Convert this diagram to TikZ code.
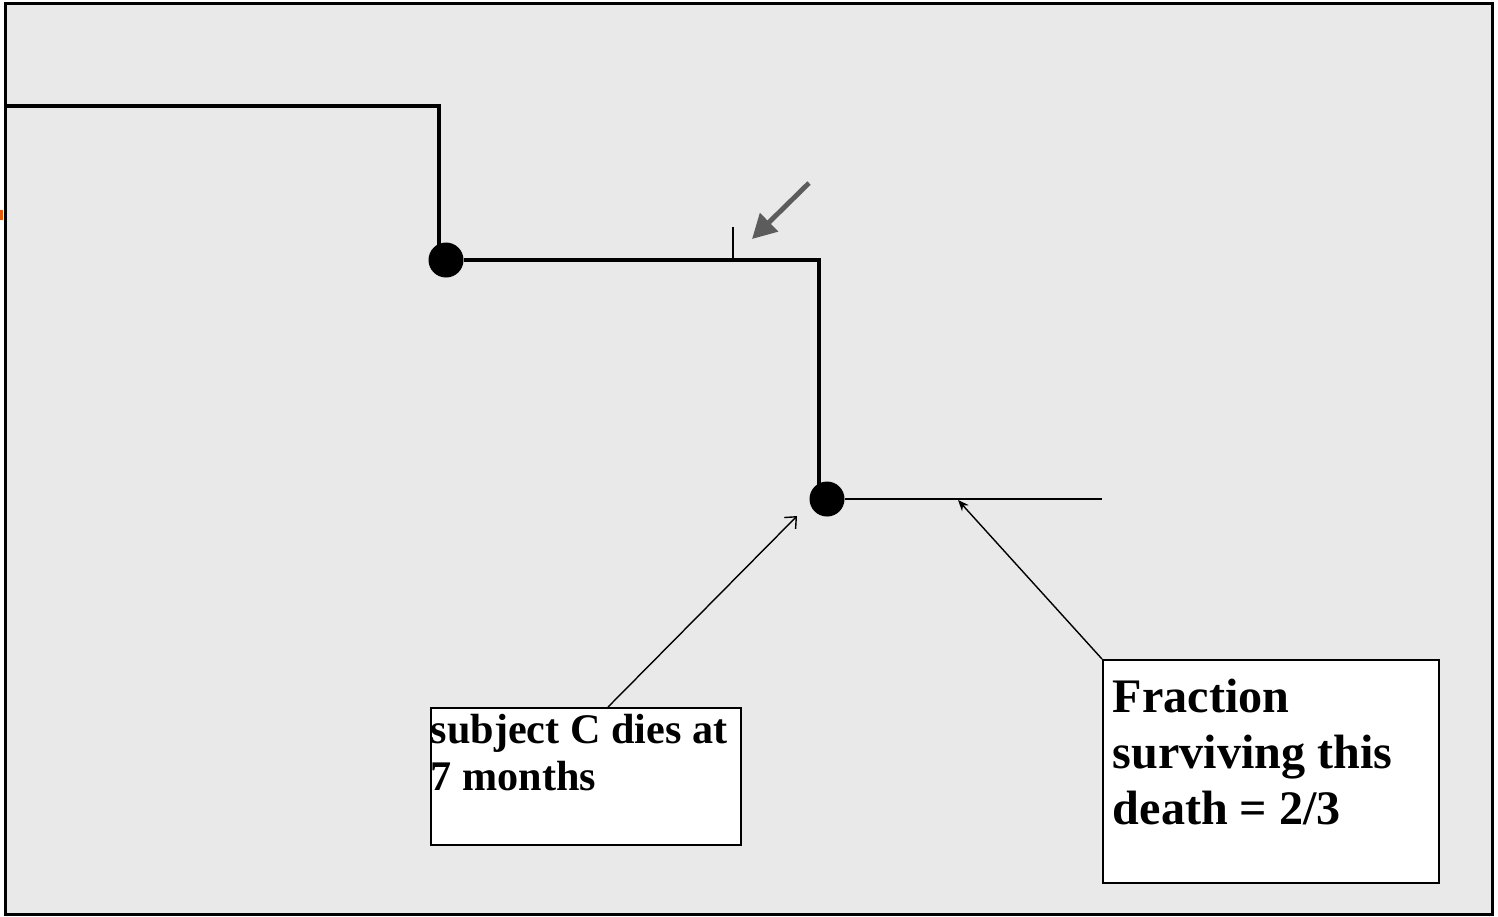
\documentclass[tikz,border=0pt]{standalone}
\usepackage{fontspec}
\setmainfont{Liberation Serif}
\usetikzlibrary{calc,arrows.meta,positioning}
\definecolor{panel}{RGB}{233,233,233}
\definecolor{hintgray}{RGB}{92,92,92}
\definecolor{slideorange}{RGB}{230,90,10}

\begin{document}
\begin{tikzpicture}[
  x=0.1mm, y=-0.1mm,
  frame/.style={draw, line width=1pt, fill=panel},
  curve/.style={line width=1.1pt},
  level/.style={line width=0.7pt},
  dot/.style={circle, fill=black, inner sep=0pt, minimum size=3.5mm},
  box/.style={rectangle, draw, fill=white, line width=0.5pt, anchor=north west, inner ysep=0pt, font=\bfseries},
  pointer/.style={-{Straight Barb[length=0.9mm,width=1.6mm]}, line width=0.4pt},
  hint/.style={-{Triangle[length=2.4mm,width=2.5mm]}, line width=1.4pt, hintgray}
]
  \useasboundingbox (0,0) rectangle (1498,916);
  \fill[slideorange] (0,210) rectangle (3,220);
  \draw[frame] (5.5,3.5) rectangle (1492.5,914.5);

  % survival curve
  \node[dot] (dotB) at (446,260) {};
  \node[dot] (dotC) at (827,499) {};
  \draw[curve] (5.5,106) -- (439,106) -- (439,256);
  \draw[curve] (dotB) -- (819,260) -- (819,488);
  \draw[level] (dotC) -- (1102,499);
  \draw[line width=0.6pt] (733,227) -- (733,260);

  % callouts
  \node[box, inner xsep=0pt] (subjbox) at (430,707)
    {\parbox[t][13.7mm][t]{31mm}{\fontsize{12}{13.4}\selectfont\rule{0pt}{10.2pt}subject C dies at\\7 months}};
  \node[box, inner xsep=1mm] (fracbox) at (1102,659)
    {\parbox[t][22.3mm][t]{31.6mm}{\fontsize{13.7}{15.8}\selectfont\rule{0pt}{15.1pt}Fraction\\surviving this\\death = 2/3}};

  \coordinate (cTip) at (797,516);
  \coordinate (fracTip) at (958,500);
  \coordinate (hintTail) at (809,183);
  \coordinate (hintTip) at (752,239);

  \draw[pointer] ($(subjbox.north west)!0.571!(subjbox.north east)$) -- (cTip);
  \draw[-{Stealth[length=1.1mm,width=0.9mm]}, line width=0.4pt] (fracbox.north west) -- (fracTip);
  \draw[hint] (hintTail) -- (hintTip);
\end{tikzpicture}
\end{document}
